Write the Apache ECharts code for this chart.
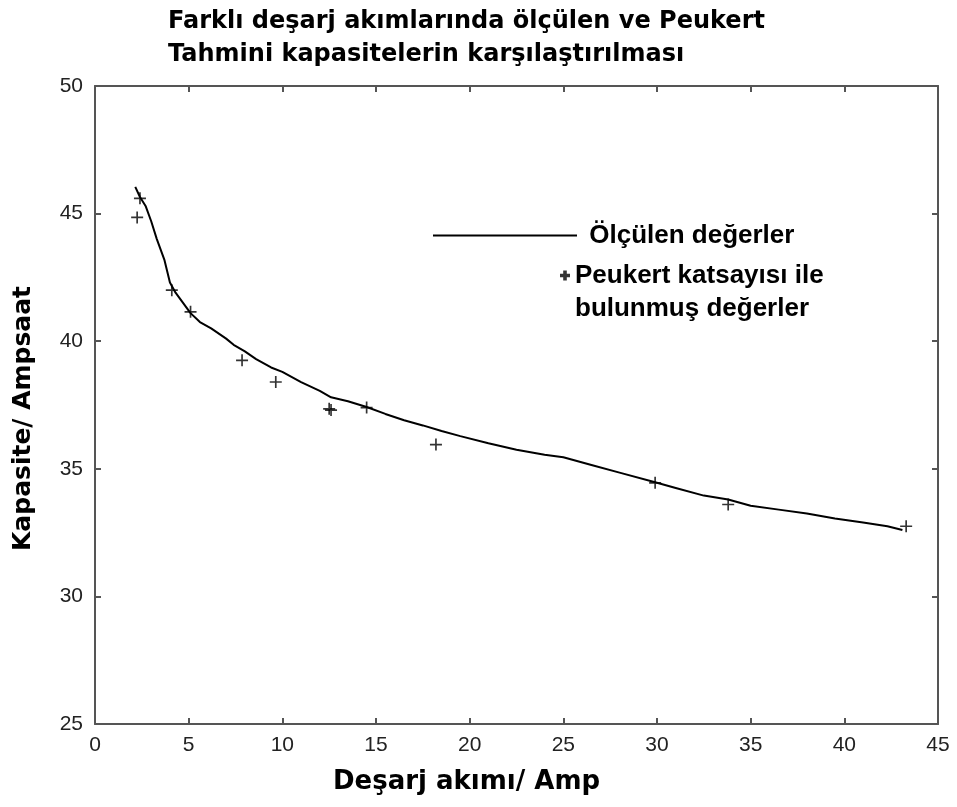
<!DOCTYPE html>
<html>
<head>
<meta charset="utf-8">
<script src="https://cdn.jsdelivr.net/npm/echarts@6/dist/echarts.min.js"></script>
<style>
  html, body { margin: 0; padding: 0; background: #fff; }
  #chart { width: 957px; height: 807px; }
</style>
</head>
<body>
<div id="chart"></div>
<script>
// Measured capacity curve (discharge current in A, capacity in Ah)
const measuredX = [2.15, 2.4, 2.7, 3.0, 3.3, 3.7, 4.0, 4.3, 4.7, 5.1, 5.6, 6.2, 7.0, 7.4, 8.0, 8.6, 9.4, 10.0, 11.0, 12.0, 12.6, 13.5, 14.5, 15.5, 16.5, 17.5, 18.5, 19.5, 21.0, 22.5, 24.0, 25.0, 26.5, 28.0, 29.9, 31.0, 32.5, 33.8, 35.0, 36.5, 38.0, 39.5, 41.0, 42.3, 43.1];
const measuredY = [46.05, 45.65, 45.3, 44.7, 44.0, 43.2, 42.3, 41.9, 41.5, 41.1, 40.75, 40.5, 40.1, 39.86, 39.6, 39.3, 38.97, 38.8, 38.4, 38.05, 37.8, 37.65, 37.42, 37.15, 36.9, 36.7, 36.48, 36.28, 36.0, 35.75, 35.55, 35.45, 35.15, 34.85, 34.47, 34.25, 33.95, 33.8, 33.55, 33.4, 33.25, 33.05, 32.9, 32.75, 32.6];

// Capacities estimated with the Peukert coefficient
const peukertX = [2.25, 2.4, 4.1, 5.1, 7.85, 9.65, 12.5, 12.6, 14.5, 18.2, 29.9, 33.8, 43.3];
const peukertY = [44.85, 45.6, 42.0, 41.15, 39.25, 38.4, 37.35, 37.3, 37.4, 35.95, 34.45, 33.6, 32.75];

const xTicks = { min: 0, max: 45, interval: 5 };
const yTicks = { min: 25, max: 50, interval: 5 };

const lineName = 'Ölçülen değerler';
const pointName = 'Peukert katsayısı ile\nbulunmuş değerler';

// thin plus for the plotted points
const plus = 'path://M4.3,0h1.4v4.3h4.3v1.4h-4.3v4.3h-1.4v-4.3h-4.3v-1.4h4.3z';
// heavier plus for the legend key; the tiny square far below stretches the
// icon box so the plus lines up with the first row of the two-line label
const plusKey = 'path://M3.2,0h3.6v3.2h3.2v3.6h-3.2v3.2h-3.6v-3.2h-3.2v-3.6h3.2z M5,42.99h0.01v0.01h-0.01z';

const axisColor = '#555';
const labelFont = { fontFamily: 'Liberation Sans', fontSize: 21, color: '#222' };
const legendFont = { fontFamily: 'Liberation Sans', fontWeight: 'bold', fontSize: 26, lineHeight: 33, color: '#000' };

function xAxisCfg(pos, showLabels) {
  return {
    type: 'value', position: pos, min: xTicks.min, max: xTicks.max, interval: xTicks.interval,
    axisLine: { show: true, onZero: false, lineStyle: { color: axisColor, width: 2 } },
    axisTick: { show: true, inside: true, length: 6, lineStyle: { color: axisColor, width: 2 } },
    axisLabel: Object.assign({ show: showLabels, margin: 11 }, labelFont),
    splitLine: { show: false }
  };
}
function yAxisCfg(pos, showLabels) {
  return {
    type: 'value', position: pos, min: yTicks.min, max: yTicks.max, interval: yTicks.interval,
    axisLine: { show: true, onZero: false, lineStyle: { color: axisColor, width: 2 } },
    axisTick: { show: true, inside: true, length: 6, lineStyle: { color: axisColor, width: 2 } },
    axisLabel: Object.assign({ show: showLabels, margin: 12 }, labelFont),
    splitLine: { show: false }
  };
}

const chart = echarts.init(document.getElementById('chart'), null, { renderer: 'canvas' });

chart.setOption({
  backgroundColor: '#fff',
  animation: false,
  title: {
    text: 'Farklı deşarj akımlarında ölçülen ve Peukert\nTahmini kapasitelerin karşılaştırılması',
    left: 163, top: 0,
    textStyle: { fontFamily: 'DejaVu Sans', fontWeight: 'bold', fontSize: 24, lineHeight: 33, color: '#000' }
  },
  grid: { left: 95, right: 19, top: 86, bottom: 83, containLabel: false },
  xAxis: [xAxisCfg('bottom', true), xAxisCfg('top', false)],
  yAxis: [yAxisCfg('left', true), yAxisCfg('right', false)],
  legend: [
    {
      data: [{ name: lineName, icon: 'rect' }], left: 433, top: 219, padding: 0,
      itemWidth: 144, itemHeight: 2,
      formatter: name => ' ' + name,
      textStyle: legendFont,
      selectedMode: false
    },
    {
      data: [{ name: pointName, icon: plusKey }], left: 560, top: 259, padding: 0,
      itemWidth: 10, itemHeight: 43,
      textStyle: legendFont,
      selectedMode: false
    }
  ],
  graphic: [
    {
      type: 'text', left: 333, top: 769,
      style: { text: 'Deşarj akımı/ Amp', font: 'bold 26px "DejaVu Sans"', fill: '#000' }
    },
    {
      type: 'text', rotation: Math.PI / 2, x: 11, y: 551,
      style: { text: 'Kapasite/ Ampsaat', font: 'bold 25px "DejaVu Sans"', fill: '#000' }
    }
  ],
  series: [
    {
      name: lineName, type: 'line', xAxisIndex: 0, yAxisIndex: 0,
      data: measuredX.map((x, i) => [x, measuredY[i]]),
      symbol: 'none', smooth: false,
      lineStyle: { color: '#000', width: 2 },
      itemStyle: { color: '#000' }
    },
    {
      name: pointName, type: 'scatter', xAxisIndex: 0, yAxisIndex: 0,
      data: peukertX.map((x, i) => [x, peukertY[i]]),
      symbol: plus, symbolSize: 12,
      itemStyle: { color: '#000' }
    }
  ]
});
</script>
</body>
</html>
